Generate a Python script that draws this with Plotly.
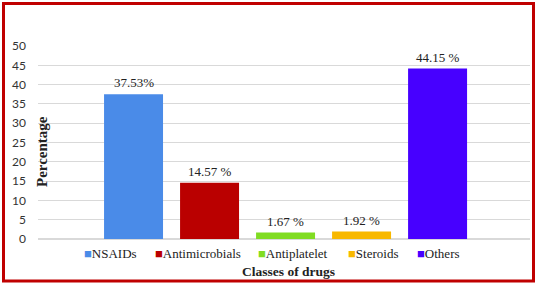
import plotly.graph_objects as go

categories = ["NSAIDs", "Antimicrobials", "Antiplatelet", "Steroids", "Others"]
values = [37.53, 14.57, 1.67, 1.92, 44.15]
labels = ["37.53%", "14.57 %", "1.67 %", "1.92 %", "44.15 %"]
colors = ["#4A8BE8", "#BA0000", "#80DC22", "#F8B800", "#4700FF"]
y_ticks = [0, 5, 10, 15, 20, 25, 30, 35, 40, 45, 50]

serif = "Liberation Serif"
text_col = "#222222"

W, H = 537, 286
L, R, T, B = 38, 7, 46, 47
pw, ph = W - L - R, H - T - B

def px_x(x):
    return (x - L) / pw

def px_y(y):
    return (H - B - y) / ph

fig = go.Figure(go.Bar(
    x=categories, y=values,
    marker=dict(color=colors, line=dict(width=0)),
    hoverinfo="skip", showlegend=False,
))

annotations = []
# value labels above each bar
for cat, val, lab in zip(categories, values, labels):
    annotations.append(dict(x=cat, y=val, xref="x", yref="y", text=lab,
                            showarrow=False, xanchor="center", yanchor="bottom", yshift=2,
                            font=dict(family=serif, size=13, color=text_col)))

# legend row (square swatch + name), left edges in pixels
legend_left_px = [82, 153, 256, 346, 415]
for cat, col, lx in zip(categories, colors, legend_left_px):
    annotations.append(dict(x=px_x(lx), y=px_y(253), xref="paper", yref="paper",
                            xanchor="left", yanchor="middle", showarrow=False,
                            text=f"<span style='color:{col}'>■</span>{cat}",
                            font=dict(family=serif, size=13, color=text_col)))

annotations += [
    dict(text="<b>Percentage</b>", textangle=-90, x=px_x(41.5), y=px_y(151.5),
         xref="paper", yref="paper", xanchor="center", yanchor="middle", showarrow=False,
         font=dict(family=serif, size=15, color=text_col)),
    dict(text="<b>Classes of drugs</b>", x=px_x(288), y=px_y(271),
         xref="paper", yref="paper", xanchor="center", yanchor="middle", showarrow=False,
         font=dict(family=serif, size=13.5, color=text_col)),
]

fig.update_layout(
    width=W, height=H,
    margin=dict(l=L, r=R, t=T, b=B),
    paper_bgcolor="white", plot_bgcolor="white",
    bargap=0.224,
    showlegend=False,
    xaxis=dict(range=[-1.257, 5.216], showticklabels=False, showgrid=False,
               zeroline=False, showline=False, fixedrange=True),
    yaxis=dict(range=[0, 50], tickvals=y_ticks, showgrid=True, gridcolor="#D9D9D9",
               gridwidth=1, zeroline=True, zerolinecolor="#D9D9D9", showline=False,
               ticks="", ticklabelstandoff=11, fixedrange=True,
               tickfont=dict(family="Lato", size=12, color="#333333")),
    font=dict(family=serif),
    annotations=annotations,
    shapes=[dict(type="rect", xref="paper", yref="paper",
                 x0=px_x(3.5), x1=px_x(533.5), y0=px_y(281), y1=px_y(3.5),
                 line=dict(color="#C00000", width=3), fillcolor="rgba(0,0,0,0)",
                 layer="above")],
)

fig.write_html("out.html", config={"displayModeBar": False},
               post_script="document.body.style.margin='0';")
